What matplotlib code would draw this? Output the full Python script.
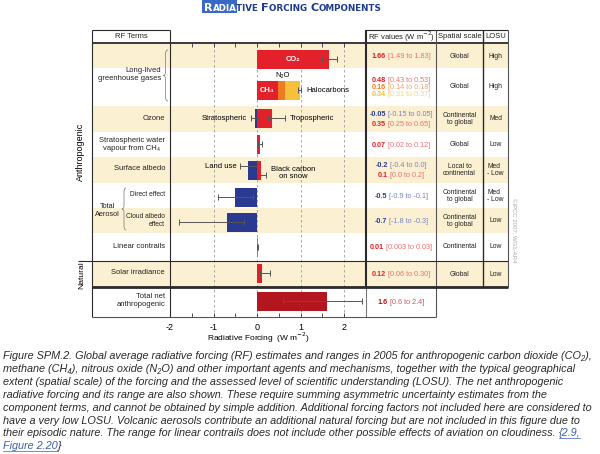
import matplotlib
matplotlib.use("Agg")
import matplotlib.pyplot as plt
from matplotlib.path import Path
from matplotlib.patches import PathPatch, Rectangle

plt.rcParams['font.family'] = ['Liberation Sans', 'DejaVu Sans']
plt.rcParams['axes.unicode_minus'] = False

# ---- data (W m-2), IPCC AR4 SPM.2 ----
terms = ['CO2', 'CH4', 'N2O', 'Halocarbons', 'Stratospheric ozone', 'Tropospheric ozone',
         'Stratospheric water vapour', 'Land use', 'Black carbon on snow', 'Direct effect',
         'Cloud albedo effect', 'Linear contrails', 'Solar irradiance', 'Total net anthropogenic']
rf_value = [1.66, 0.48, 0.16, 0.34, -0.05, 0.35, 0.07, -0.2, 0.1, -0.5, -0.7, 0.01, 0.12, 1.6]
rf_low = [1.49, 0.43, 0.14, 0.31, -0.15, 0.25, 0.02, -0.4, 0.0, -0.9, -1.8, 0.003, 0.06, 0.6]
rf_high = [1.83, 0.53, 0.18, 0.37, 0.05, 0.65, 0.12, 0.0, 0.2, -0.1, -0.3, 0.03, 0.30, 2.4]
row_of = ['co2', 'ghg', 'ghg', 'ghg', 'ozone', 'ozone', 'h2o', 'albedo', 'albedo',
          'direct', 'cloud', 'contrails', 'solar', 'total']

value_str = ['1.66', '0.48', '0.16', '0.34', '-0.05', '0.35', '0.07', '-0.2', '0.1',
             '-0.5', '-0.7', '0.01', '0.12', '1.6']
range_str = ['[1.49 to 1.83]', '[0.43 to 0.53]', '[0.14 to 0.18]', '[0.31 to 0.37]',
             '[-0.15 to 0.05]', '[0.25 to 0.65]', '[0.02 to 0.12]', '[-0.4 to 0.0]',
             '[0.0 to 0.2]', '[-0.9 to -0.1]', '[-1.8 to -0.3]', '[0.003 to 0.03]',
             '[0.06 to 0.30]', '[0.6 to 2.4]']

spatial_scale = ['Global', 'Global', 'Continental\nto global', 'Global', 'Local to\ncontinental',
                 'Continental\nto global', 'Continental\nto global', 'Continental', 'Global']
losu = ['High', 'High', 'Med', 'Low', 'Med\n- Low', 'Med\n- Low', 'Low', 'Low', 'Low']
table_rows = ['co2', 'ghg', 'ozone', 'h2o', 'albedo', 'direct', 'cloud', 'contrails', 'solar']

# ---- layout (pixels, figure is 600 x 454) ----
row_y = {'co2': 59, 'ghg': 90, 'ozone': 118, 'h2o': 144, 'albedo': 170, 'direct': 197,
         'cloud': 222, 'contrails': 247, 'solar': 273, 'total': 301}
row_text_y = {'co2': 56, 'ghg': 87, 'ozone': 119, 'h2o': 145, 'albedo': 170, 'direct': 196,
              'cloud': 221, 'contrails': 247, 'solar': 274, 'total': 302}
err_dy = [0, 0, 0, 0, 0, 0, 0, -4, 5, 0, 0, 0, 0, 0]
show_err = [True, False, False, True, True, True, True, True, True, True, True, True, True, True]
bands = [(43, 68), (106, 132), (157, 183), (208, 233), (261, 287)]

RED, ORANGE, YELLOW, BLUE, DRED = '#e4202a', '#ee7a22', '#f6c03a', '#2a3a92', '#b3161f'
bar_color = [RED, RED, ORANGE, YELLOW, BLUE, RED, RED, BLUE, RED, BLUE, BLUE, '#888888', RED, DRED]
light = {RED: '#ef7070', ORANGE: '#f3a56c', YELLOW: '#f7d27a', BLUE: '#7b84bf', DRED: '#c8585d',
         '#888888': '#ef7070'}
TAN = '#fcf0d2'

fig = plt.figure(figsize=(6, 4.54), dpi=100)
bg = fig.add_axes([0, 0, 1, 1])
bg.set_xlim(0, 600); bg.set_ylim(454, 0); bg.axis('off')
for y0, y1 in bands:
    bg.add_patch(Rectangle((92, y0), 416, y1 - y0, color=TAN, lw=0))

# ---- main bar panel ----
ax = fig.add_axes([170 / 600, 1 - 317 / 454, 196 / 600, 274 / 454])
ax.patch.set_alpha(0)
ax.set_xlim(-2, 2.5)
ax.set_ylim(317, 43)
for s in ax.spines.values():
    s.set_visible(False)

pos_acc, neg_acc = {}, {}
for i, t in enumerate(terms):
    r = row_of[i]
    v = rf_value[i]
    acc = pos_acc if v >= 0 else neg_acc
    left = acc.get(r, 0.0)
    acc[r] = left + v
    ax.barh(row_y[r], v, left=left, height=19, color=bar_color[i], lw=0, zorder=2)
    if show_err[i]:
        ax.errorbar(left + v, row_y[r] + err_dy[i],
                    xerr=[[v - rf_low[i]], [rf_high[i] - v]], fmt='none',
                    ecolor='#555555', elinewidth=0.7, capsize=2, capthick=0.7, zorder=3)

for gx in [-1, 0, 1, 2]:
    ax.axvline(gx, color='#9a9a9a', ls=(0, (3, 3)), lw=0.6, zorder=1)

ax.set_xticks([-2, -1, 0, 1, 2])
ax.set_xticks([-1.5, -0.5, 0.5, 1.5, 2.5], minor=True)
ax.set_yticks([])
ax.tick_params(axis='x', which='both', direction='in', top=True, bottom=True,
               length=3, width=0.6, labelsize=6.5, pad=4, color='#333333')
ax.set_xlabel('Radiative Forcing  (W m$^{-2}$)', fontsize=6, labelpad=3)
ax.xaxis.set_label_coords(0.45, -0.05)

lab = dict(fontsize=5.5, va='center', zorder=4)
ax.text(0.83, 59, 'CO₂', color='white', fontweight='bold', ha='center', **lab)
ax.text(0.22, 90, 'CH₄', color='white', fontweight='bold', ha='center', **lab)
ax.text(0.58, 75, 'N₂O', ha='center', **lab)
ax.text(1.14, 90, 'Halocarbons', ha='left', **lab)
ax.text(-0.24, 118, 'Stratospheric', ha='right', **lab)
ax.text(0.74, 118, 'Tropospheric', ha='left', **lab)
ax.text(-0.48, 166, 'Land use', ha='right', **lab)
ax.text(0.32, 173, 'Black carbon\non snow', ha='left', multialignment='center',
        linespacing=0.95, **lab)

# ---- overlay: frames and tables ----
ov = fig.add_axes([0, 0, 1, 1])
ov.set_xlim(0, 600); ov.set_ylim(454, 0); ov.axis('off')
ov.patch.set_alpha(0)
K = '#2a2a2a'


def hl(y, x0, x1, lw=0.8, c=K):
    ov.plot([x0, x1], [y, y], color=c, lw=lw, solid_capstyle='butt')


def vl(x, y0, y1, lw=0.8, c=K):
    ov.plot([x, x], [y0, y1], color=c, lw=lw, solid_capstyle='butt')


hl(30, 92, 170); hl(30, 366, 508)
hl(43, 92, 508, lw=1.3)
vl(92, 30, 317); vl(170, 30, 317)
vl(366, 30, 287, lw=1.5); vl(366, 287, 317, c='#777777')
vl(436, 30, 317, c='#555555'); vl(483, 30, 287, lw=1.0); vl(508, 30, 287, c='#555555')
hl(261, 78, 508)
hl(287, 92, 508, lw=2.0)
hl(317, 92, 436, c='#555555')


def brace(x, y0, y1, w, c='#8a8a8a'):
    ym = (y0 + y1) / 2
    verts = [(x, y0), (x - w / 2, y0), (x - w / 2, y0 + 4),
             (x - w / 2, ym - 3),
             (x - w / 2, ym), (x - w, ym),
             (x - w / 2, ym), (x - w / 2, ym + 3),
             (x - w / 2, y1 - 4),
             (x - w / 2, y1), (x, y1)]
    codes = [Path.MOVETO, Path.CURVE3, Path.CURVE3, Path.LINETO,
             Path.CURVE3, Path.CURVE3, Path.CURVE3, Path.CURVE3,
             Path.LINETO, Path.CURVE3, Path.CURVE3]
    ov.add_patch(PathPatch(Path(verts, codes), fill=False, ec=c, lw=0.6))


brace(168, 50, 101, 5)
brace(126, 188, 230, 4)

txt = dict(fontsize=5.5, va='center', color='#222222')
ov.text(131, 37, 'RF Terms', ha='center', **txt)
ov.text(161, 75, 'Long-lived\ngreenhouse gases', ha='right', multialignment='right', **txt)
ov.text(165, 118, 'Ozone', ha='right', **txt)
ov.text(165, 144, 'Stratospheric water\nvapour from CH₄', ha='right', multialignment='center', **txt)
ov.text(165, 169, 'Surface albedo', ha='right', **txt)
ov.text(165, 195, 'Direct effect', ha='right', fontsize=4.8, va='center', color='#222222')
ov.text(165, 221, 'Cloud albedo\neffect', ha='right', multialignment='right',
        fontsize=4.8, va='center', color='#222222')
ov.text(107, 210, 'Total\nAerosol', ha='center', multialignment='center',
        fontsize=5.3, va='center', color='#222222')
ov.text(165, 247, 'Linear contrails', ha='right', **txt)
ov.text(165, 273, 'Solar irradiance', ha='right', **txt)
ov.text(165, 301, 'Total net\nanthropogenic', ha='right', multialignment='right', **txt)
ov.text(80, 152, 'Anthropogenic', rotation=90, ha='center', fontsize=6.5, va='center')
ov.text(82, 275, 'Natural', rotation=90, ha='center', fontsize=6.1, va='center')

ov.text(401, 37, 'RF values (W m$^{-2}$)', ha='center', **txt)
ov.text(459.5, 37, 'Spatial scale', ha='center', **txt)
ov.text(495.5, 37, 'LOSU', ha='center', **txt)

rend = fig.canvas.get_renderer()


def runs(x, y, parts, ha='left', **kw):
    texts = [ov.text(0, y, s, ha='left', va='baseline', **{**kw, **p}) for s, p in parts]
    widths = [t.get_window_extent(rend).width for t in texts]
    x0 = x - sum(widths) / 2 if ha == 'center' else x
    for t, w in zip(texts, widths):
        t.set_x(x0)
        x0 += w
    return texts


# rows with several values: line offsets for the value column
line_dy = {'ghg': [-7, 0, 7], 'ozone': [-5.5, 5.5], 'albedo': [-5, 5]}
count = {}
for i, t in enumerate(terms):
    r = row_of[i]
    k = count.get(r, 0)
    count[r] = k + 1
    dy = line_dy[r][k] if r in line_dy else 0
    c = bar_color[i] if bar_color[i] != '#888888' else RED
    runs(401, row_text_y[r] + dy + 2, [(value_str[i], dict(color=c, fontweight='bold')),
                                       (' ' + range_str[i], dict(color=light[c]))],
         ha='center', fontsize=5.2)

for r, sc, lo in zip(table_rows, spatial_scale, losu):
    ov.text(459.5, row_text_y[r], sc, ha='center', multialignment='center',
            fontsize=4.9, va='center', color='#222222', linespacing=1.0)
    ov.text(495.5, row_text_y[r], lo, ha='center', multialignment='left',
            fontsize=4.9, va='center', color='#222222', linespacing=1.0)

ov.text(514, 230, '©IPCC 2007: WG1-AR4', rotation=-90, ha='center', va='center',
        fontsize=4.3, color='#a8a8a8')

# ---- title in small caps ----
NAVY = '#1f3c8c'
big = dict(fontsize=8.1, fontweight='bold', family='DejaVu Sans')
sml = dict(fontsize=6.3, fontweight='bold', family='DejaVu Sans')
ttl = runs(204, 11, [('R', dict(color='white', **big)), ('ADIA', dict(color='white', **sml)),
                     ('TIVE ', dict(color=NAVY, **sml)), ('F', dict(color=NAVY, **big)),
                     ('ORCING ', dict(color=NAVY, **sml)), ('C', dict(color=NAVY, **big)),
                     ('OMPONENTS', dict(color=NAVY, **sml))])
hx1 = ttl[1].get_window_extent(rend).x1
bg.add_patch(Rectangle((202, 0), hx1 - 202, 13, color='#3a68c8', lw=0))

# ---- caption ----
caption = [
    'Figure SPM.2. Global average radiative forcing (RF) estimates and ranges in 2005 for anthropogenic carbon dioxide (CO₂),',
    'methane (CH₄), nitrous oxide (N₂O) and other important agents and mechanisms, together with the typical geographical',
    'extent (spatial scale) of the forcing and the assessed level of scientific understanding (LOSU). The net anthropogenic',
    'radiative forcing and its range are also shown. These require summing asymmetric uncertainty estimates from the',
    'component terms, and cannot be obtained by simple addition. Additional forcing factors not included here are considered to',
    'have a very low LOSU. Volcanic aerosols contribute an additional natural forcing but are not included in this figure due to',
    'their episodic nature. The range for linear contrails does not include other possible effects of aviation on cloudiness. ',
]
CS = 7.85
cap = dict(fontsize=CS, style='italic', color='#2a2a2a')
LINK = '#3a5fb0'
for j, line in enumerate(caption):
    y = 359 + j * 12.9
    if j == len(caption) - 1:
        tt = runs(3, y, [(line, dict(**cap)), ('{2.9,', dict(fontsize=CS, style='italic', color=LINK))])
    else:
        runs(3, y, [(line, cap)])
tt2 = runs(3, 359 + 7 * 12.9, [('Figure 2.20', dict(fontsize=CS, style='italic', color=LINK)),
                               ('}', dict(fontsize=CS, style='italic', color='#2a2a2a'))])
for t in [tt[1], tt2[0]]:
    bb = t.get_window_extent(rend)
    yb = t.get_position()[1] + 1.8
    ov.plot([bb.x0, bb.x1], [yb, yb], color=LINK, lw=0.5)

fig.savefig('out.png', dpi=100)
